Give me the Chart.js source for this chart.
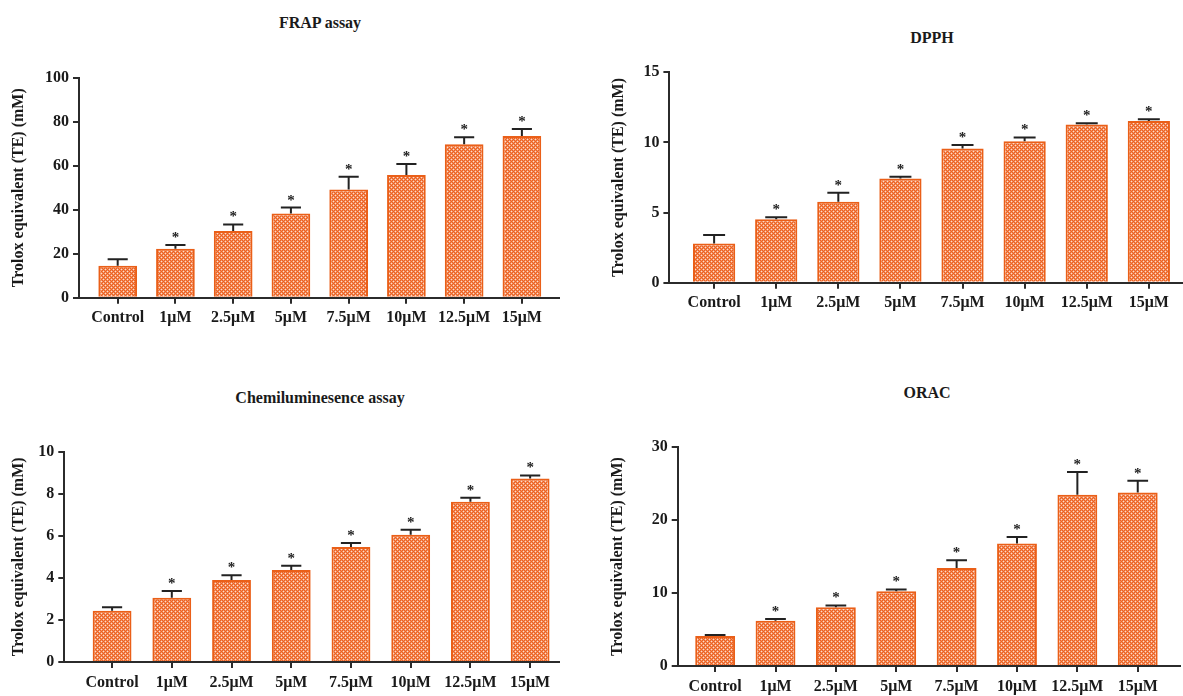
<!DOCTYPE html>
<html>
<head>
<meta charset="utf-8">
<script src="https://cdn.jsdelivr.net/npm/chart.js@4.4.1/dist/chart.umd.min.js"></script>
<style>
  html, body { margin: 0; padding: 0; background: #ffffff; }
  #page { position: relative; width: 1183px; height: 696px; overflow: hidden; background: #fff; }
  .panel { position: absolute; }
  .ttl { position: absolute; transform: translate(-50%, -50%); white-space: nowrap;
         font-family: "Liberation Serif", "Times New Roman", serif; font-weight: bold;
         font-size: 16px; color: #1a1a1a; }
</style>
</head>
<body>
<div id="page">
  <div class="ttl" style="left:320px; top:23px;">FRAP assay</div>
  <div class="ttl" style="left:932px; top:38px;">DPPH</div>
  <div class="ttl" style="left:320px; top:398px;">Chemiluminesence assay</div>
  <div class="ttl" style="left:927px; top:393px;">ORAC</div>
  <div class="panel" style="left:0px; top:40px;"><canvas id="c1" width="560" height="320"></canvas></div>
  <div class="panel" style="left:590px; top:40px;"><canvas id="c2" width="593" height="300"></canvas></div>
  <div class="panel" style="left:0px; top:400px;"><canvas id="c3" width="560" height="296"></canvas></div>
  <div class="panel" style="left:590px; top:400px;"><canvas id="c4" width="593" height="296"></canvas></div>
</div>
<script>
// ---- data ----
const categories = ['Control', '1\u03bcM', '2.5\u03bcM', '5\u03bcM', '7.5\u03bcM', '10\u03bcM', '12.5\u03bcM', '15\u03bcM'];
const significant = [false, true, true, true, true, true, true, true];

const frapMean = [14.5, 22.3, 30.3, 38.3, 49.2, 55.8, 69.8, 73.5];
const frapErr  = [3.0, 1.7, 3.0, 2.7, 5.8, 5.0, 3.1, 3.2];

const dpphMean = [2.8, 4.52, 5.78, 7.42, 9.56, 10.08, 11.27, 11.53];
const dpphErr  = [0.6, 0.14, 0.64, 0.14, 0.26, 0.28, 0.09, 0.12];

const chemiMean = [2.44, 3.06, 3.9, 4.37, 5.47, 6.05, 7.62, 8.72];
const chemiErr  = [0.16, 0.32, 0.22, 0.21, 0.19, 0.24, 0.19, 0.15];

const oracMean = [4.1, 6.22, 8.05, 10.24, 13.44, 16.8, 23.5, 23.8];
const oracErr  = [0.15, 0.23, 0.25, 0.26, 1.06, 0.9, 3.1, 1.6];

const yTitle = 'Trolox equivalent (TE) (mM)';

// ---- styling helpers ----
const FONT = '"Liberation Serif", "Times New Roman", serif';
const AXIS = '#2b2b2b';
const BAR_BORDER = '#EA5F18';

function makePattern() {
  const t = document.createElement('canvas');
  t.width = 4; t.height = 4;
  const c = t.getContext('2d');
  const img = c.createImageData(4, 4);
  const base = [236, 98, 32];
  const dot = [253, 222, 204];
  const mid = [243, 142, 96];
  const dots = [[1, 1], [3, 3]];
  for (let y = 0; y < 4; y++) {
    for (let x = 0; x < 4; x++) {
      let col = base;
      for (const [dx, dy] of dots) {
        const ddx = Math.min(Math.abs(x - dx), 4 - Math.abs(x - dx));
        const ddy = Math.min(Math.abs(y - dy), 4 - Math.abs(y - dy));
        if (ddx === 0 && ddy === 0) col = dot;
        else if (ddx + ddy === 1 && col === base) col = mid;
      }
      const i = (y * 4 + x) * 4;
      img.data[i] = col[0]; img.data[i + 1] = col[1]; img.data[i + 2] = col[2]; img.data[i + 3] = 255;
    }
  }
  c.putImageData(img, 0, 0);
  return t;
}
const patternTile = makePattern();

const errorBarsPlugin = {
  id: 'errorBars',
  afterDatasetsDraw(chart, args, opts) {
    const ctx = chart.ctx;
    const meta = chart.getDatasetMeta(0);
    const ys = chart.scales.y;
    const means = chart.data.datasets[0].data.map(d => d.y);
    ctx.save();
    ctx.strokeStyle = '#222';
    ctx.lineWidth = 2;
    ctx.fillStyle = '#222';
    meta.data.forEach((bar, i) => {
      const capY = ys.getPixelForValue(means[i] + opts.errors[i]);
      const cw = bar.width * 0.52;
      ctx.beginPath();
      ctx.moveTo(bar.x, bar.y);
      ctx.lineTo(bar.x, capY);
      ctx.moveTo(bar.x - cw / 2, capY);
      ctx.lineTo(bar.x + cw / 2, capY);
      ctx.stroke();
      if (opts.stars[i]) {
        ctx.font = 'bold 15px ' + FONT;
        ctx.textAlign = 'center';
        ctx.textBaseline = 'alphabetic';
        ctx.fillText('*', bar.x, capY - 3);
      }
    });
    ctx.restore();
  }
};

function makeChart(id, cfg) {
  const canvas = document.getElementById(id);
  const ctx = canvas.getContext('2d');
  const pattern = ctx.createPattern(patternTile, 'repeat');
  const tickFont = { family: FONT, size: 16, weight: 'bold' };
  return new Chart(ctx, {
    type: 'bar',
    data: {
      datasets: [{
        data: cfg.mean.map((v, i) => ({ x: i, y: v })),
        backgroundColor: pattern,
        borderColor: BAR_BORDER,
        borderWidth: 2,
        borderSkipped: 'start',
        barPercentage: 1.0,
        categoryPercentage: cfg.barRatio
      }]
    },
    options: {
      responsive: false,
      animation: false,
      events: [],
      layout: { padding: cfg.padding },
      plugins: {
        legend: { display: false },
        tooltip: { enabled: false },
        title: { display: false },
        errorBars: { errors: cfg.err, stars: significant }
      },
      scales: {
        x: {
          type: 'linear',
          offset: false,
          min: cfg.xMin,
          max: cfg.xMax,
          afterBuildTicks: s => { s.ticks = categories.map((_, i) => ({ value: i })); },
          afterFit: s => { s.height = cfg.xHeight; },
          ticks: {
            autoSkip: false, maxRotation: 0, minRotation: 0,
            callback: v => (categories[v] !== undefined ? categories[v] : ''),
            font: tickFont, color: '#1a1a1a', padding: 5
          },
          grid: { offset: false, drawOnChartArea: false, drawTicks: true, tickLength: 6, color: AXIS, lineWidth: 2 },
          border: { color: AXIS, width: 2 }
        },
        y: {
          min: 0,
          max: cfg.yMax,
          afterFit: s => { s.width = cfg.yWidth; },
          ticks: { stepSize: cfg.yStep, font: tickFont, color: '#1a1a1a', padding: 4 },
          grid: { drawOnChartArea: false, drawTicks: true, tickLength: 6, color: AXIS, lineWidth: 2 },
          border: { color: AXIS, width: 2 },
          title: {
            display: true, text: yTitle, color: '#1a1a1a',
            font: { family: FONT, size: 16, weight: 'bold' },
            padding: { top: cfg.titlePad, bottom: 0 }
          }
        }
      }
    },
    plugins: [errorBarsPlugin]
  });
}

makeChart('c1', {
  mean: frapMean, err: frapErr, yMax: 100, yStep: 20,
  xMin: -0.67, xMax: 7.66, barRatio: 0.67,
  yWidth: 79, xHeight: 50, titlePad: 9,
  padding: { left: 0, top: 37.7, right: 0, bottom: 12.3 }
});
makeChart('c2', {
  mean: dpphMean, err: dpphErr, yMax: 15, yStep: 5,
  xMin: -0.72, xMax: 7.55, barRatio: 0.68,
  yWidth: 79.4, xHeight: 50, titlePad: 19,
  padding: { left: 0, top: 32.3, right: 0, bottom: 7.3 }
});
makeChart('c3', {
  mean: chemiMean, err: chemiErr, yMax: 10, yStep: 2,
  xMin: -0.80, xMax: 7.5, barRatio: 0.65,
  yWidth: 64.3, xHeight: 34, titlePad: 9,
  padding: { left: 0, top: 51.7, right: 0, bottom: 0 }
});
makeChart('c4', {
  mean: oracMean, err: oracErr, yMax: 30, yStep: 10,
  xMin: -0.62, xMax: 7.7, barRatio: 0.66,
  yWidth: 87.7, xHeight: 30, titlePad: 18,
  padding: { left: 0, top: 47.3, right: 3, bottom: 0 }
});
</script>
</body>
</html>
